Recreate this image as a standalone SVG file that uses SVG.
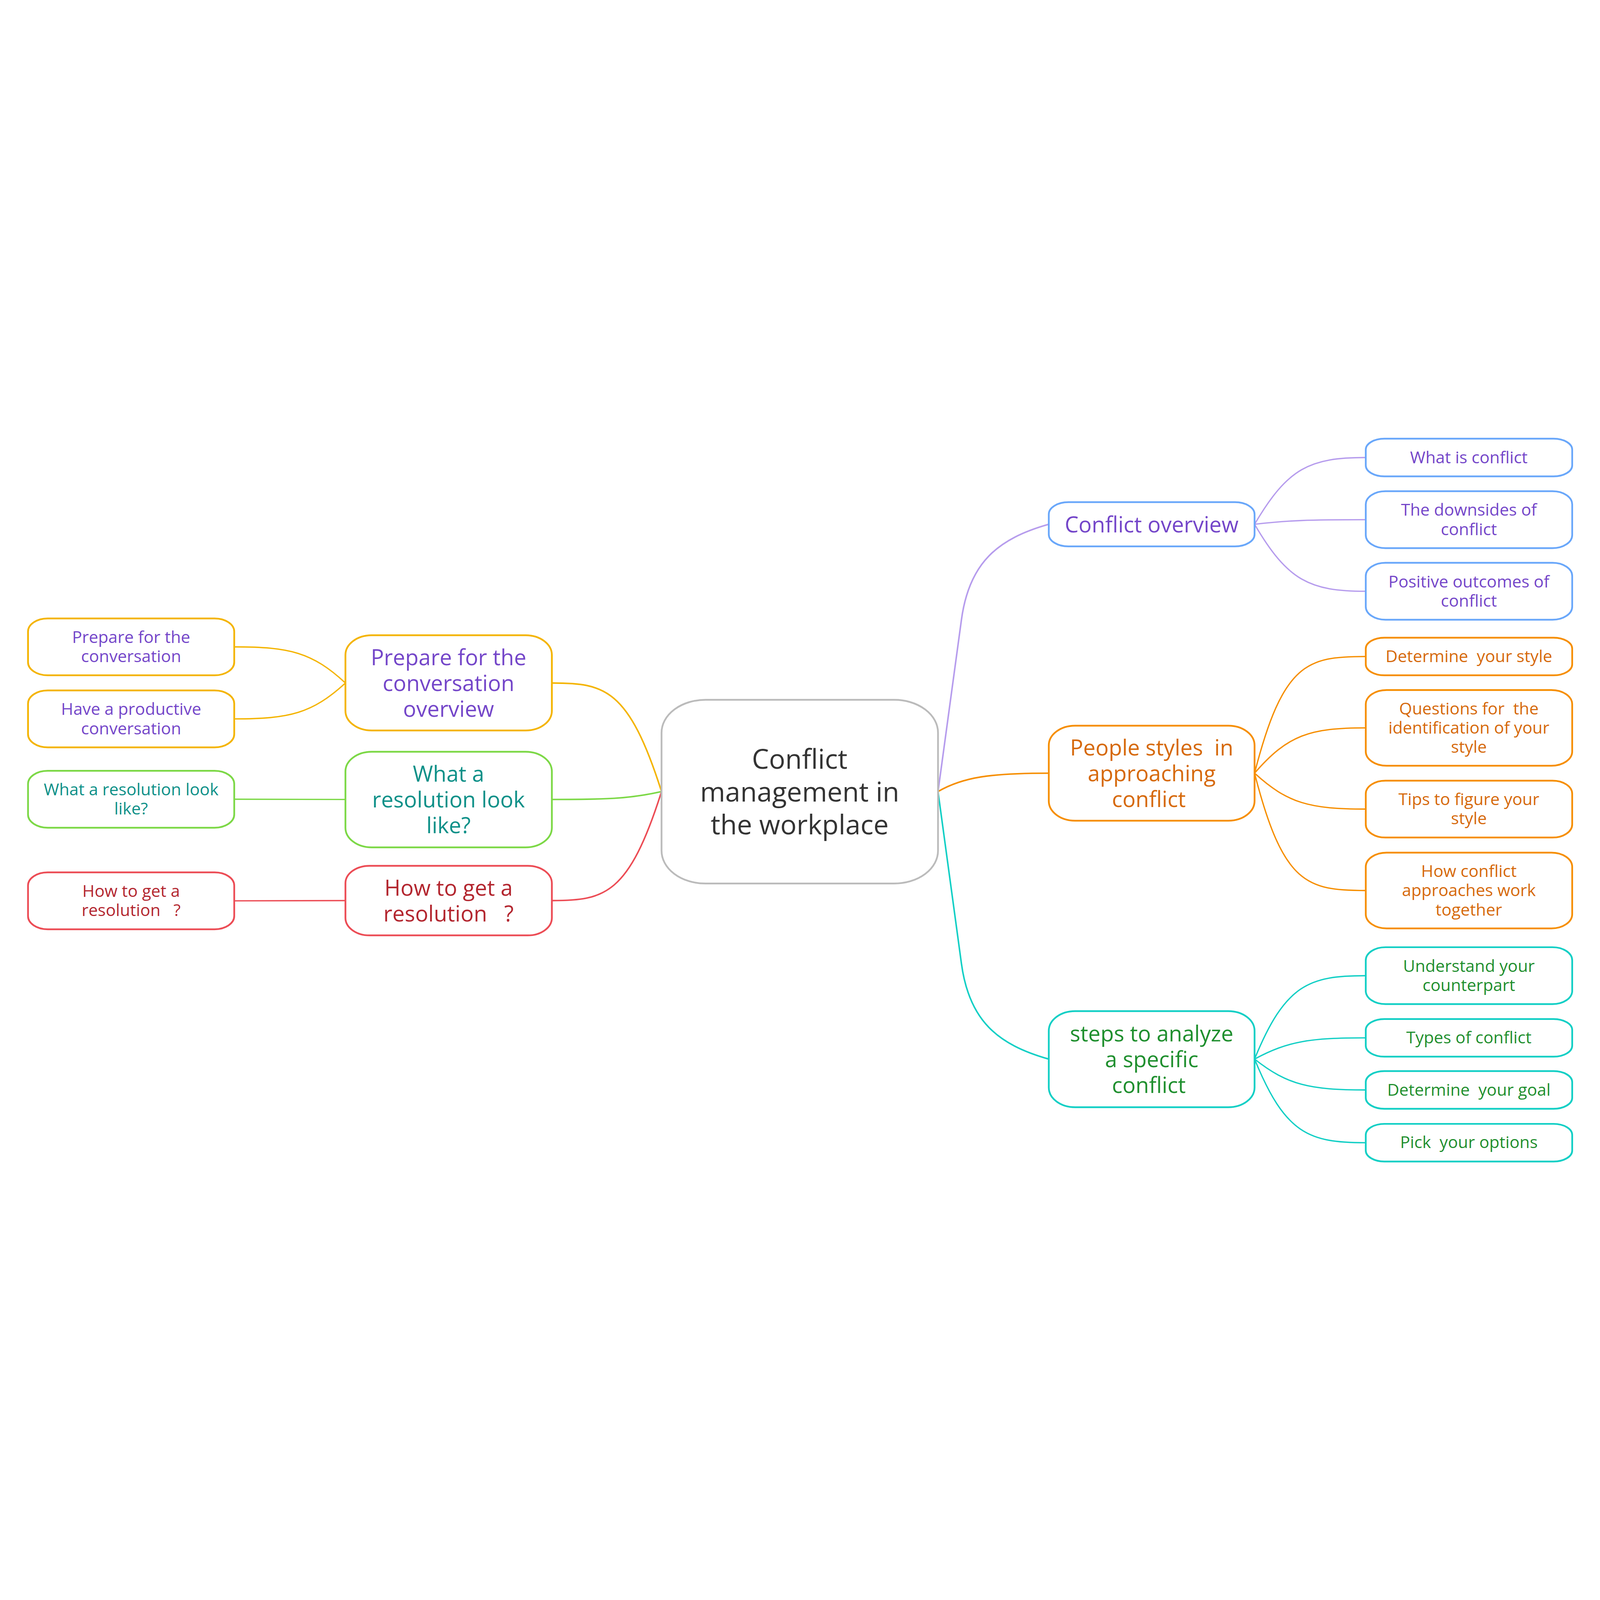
<svg xmlns="http://www.w3.org/2000/svg" width="7309" height="5167" viewBox="0 0 7309 5167">
<style>
svg{width:100vw;height:100vh}
text{font-family:"Open Sans","Noto Sans","Liberation Sans",sans-serif;text-anchor:middle;white-space:pre}
.box{fill:#ffffff;stroke-width:8}
.ln{fill:none;stroke-linecap:round;stroke-linejoin:round}
.main{stroke-width:7}
.sub{stroke-width:6}
.t0{font-size:124px;fill:#333333}
.t1{font-size:100px}
.t2{font-size:76px}
.cPur{fill:#7446c9}
.cOra{fill:#d6690b}
.cGrn{fill:#1f8f2e}
.cTea{fill:#0d9088}
.cRed{fill:#b3262f}
.sBlue{stroke:#69a7fa}
.sOra{stroke:#f68e00}
.sTeal{stroke:#12cfc5}
.sYel{stroke:#f4b400}
.sGrn{stroke:#7cd846}
.sRed{stroke:#ec4c55}
.sPur{stroke:#b69ced}
</style>
<rect width="7309" height="5167" fill="#ffffff"/>
<g id="connectors">
<path class="ln main sPur" d="M4285 2545 L4392 1760 C4427 1500 4557 1390 4791 1324"/>
<path class="ln main sOra" d="M4285 2545 C4400 2478 4530 2461 4791 2461"/>
<path class="ln main sTeal" d="M4285 2545 L4392 3331 C4427 3591 4557 3701 4791 3767"/>
<path class="ln main sYel" d="M3022 2545 C2872 2074 2762 2049 2521 2049"/>
<path class="ln main sGrn" d="M3022 2545 C2872 2579 2762 2581 2521 2581"/>
<path class="ln main sRed" d="M3022 2545 C2872 3018 2762 3043 2521 3043"/>
<path class="ln sub sPur" d="M5731 1324 C5883 1065 5985 1019 6239 1019"/>
<path class="ln sub sPur" d="M5731 1324 C5883 1306 5985 1303 6239 1303"/>
<path class="ln sub sPur" d="M5731 1324 C5883 1584 5985 1630 6239 1630"/>
<path class="ln sub sOra" d="M5731 2461 C5861 1955 5971 1928 6239 1928"/>
<path class="ln sub sOra" d="M5731 2461 C5883 2285 5985 2254 6239 2254"/>
<path class="ln sub sOra" d="M5731 2461 C5883 2600 5985 2625 6239 2625"/>
<path class="ln sub sOra" d="M5731 2461 C5861 2970 5971 2997 6239 2997"/>
<path class="ln sub sTeal" d="M5731 3767 C5871 3424 5981 3386 6239 3386"/>
<path class="ln sub sTeal" d="M5731 3767 C5883 3685 5985 3670 6239 3670"/>
<path class="ln sub sTeal" d="M5731 3767 C5883 3887 5985 3908 6239 3908"/>
<path class="ln sub sTeal" d="M5731 3767 C5871 4111 5981 4149 6239 4149"/>
<path class="ln sub sYel" d="M1578 2049 C1426 1909 1324 1884 1070 1884"/>
<path class="ln sub sYel" d="M1578 2049 C1426 2188 1324 2213 1070 2213"/>
<path class="ln sub sGrn" d="M1578 2581 L1070 2580"/>
<path class="ln sub sRed" d="M1578 3043 L1070 3044"/>
</g>
<g id="root">
<rect class="box" x="3022" y="2126" width="1263" height="839" rx="200" ry="150" stroke="#bbbbbb"/>
<text class="t0"><tspan x="3653" y="2441">Conflict</tspan><tspan x="3653" y="2591">management in</tspan><tspan x="3653" y="2741">the workplace</tspan></text>
</g>
<g id="conflict-overview">
<rect class="box sBlue" x="4791" y="1223" width="940" height="202" rx="90" ry="55"/>
<text class="t1 cPur"><tspan x="5261" y="1361">Conflict overview</tspan></text>
</g>
<g id="people-styles">
<rect class="box sOra" x="4791" y="2244" width="940" height="434" rx="120" ry="90"/>
<text class="t1 cOra"><tspan x="5261" y="2380">People styles  in</tspan><tspan x="5261" y="2498">approaching</tspan><tspan x="5261" y="2616">conflict </tspan></text>
</g>
<g id="steps">
<rect class="box sTeal" x="4791" y="3548" width="940" height="439" rx="120" ry="90"/>
<text class="t1 cGrn"><tspan x="5261" y="3686">steps to analyze</tspan><tspan x="5261" y="3804">a specific</tspan><tspan x="5261" y="3922">conflict </tspan></text>
</g>
<g id="prepare-overview">
<rect class="box sYel" x="1578" y="1831" width="943" height="435" rx="120" ry="90"/>
<text class="t1 cPur"><tspan x="2049" y="1968">Prepare for the</tspan><tspan x="2049" y="2086">conversation</tspan><tspan x="2049" y="2204">overview</tspan></text>
</g>
<g id="resolution-look">
<rect class="box sGrn" x="1578" y="2363" width="943" height="437" rx="120" ry="90"/>
<text class="t1 cTea"><tspan x="2049" y="2500">What a</tspan><tspan x="2049" y="2618">resolution look</tspan><tspan x="2049" y="2736">like?</tspan></text>
</g>
<g id="get-resolution">
<rect class="box sRed" x="1578" y="2884" width="943" height="318" rx="110" ry="80"/>
<text class="t1 cRed"><tspan x="2049" y="3020">How to get a</tspan><tspan x="2049" y="3138">resolution   ?</tspan></text>
</g>
<g id="what-is-conflict">
<rect class="box sBlue" x="6239" y="933" width="943" height="172" rx="85" ry="50"/>
<text class="t2 cPur"><tspan x="6710" y="1045">What is conflict</tspan></text>
</g>
<g id="downsides">
<rect class="box sBlue" x="6239" y="1173" width="943" height="260" rx="90" ry="60"/>
<text class="t2 cPur"><tspan x="6710" y="1285">The downsides of</tspan><tspan x="6710" y="1373">conflict</tspan></text>
</g>
<g id="positive-outcomes">
<rect class="box sBlue" x="6239" y="1500" width="943" height="260" rx="90" ry="60"/>
<text class="t2 cPur"><tspan x="6710" y="1612">Positive outcomes of</tspan><tspan x="6710" y="1700">conflict</tspan></text>
</g>
<g id="determine-style">
<rect class="box sOra" x="6239" y="1842" width="943" height="172" rx="85" ry="50"/>
<text class="t2 cOra"><tspan x="6710" y="1954">Determine  your style</tspan></text>
</g>
<g id="questions">
<rect class="box sOra" x="6239" y="2081" width="943" height="346" rx="95" ry="65"/>
<text class="t2 cOra"><tspan x="6710" y="2192">Questions for  the</tspan><tspan x="6710" y="2280">identification of your</tspan><tspan x="6710" y="2368">style</tspan></text>
</g>
<g id="tips">
<rect class="box sOra" x="6239" y="2495" width="943" height="260" rx="90" ry="60"/>
<text class="t2 cOra"><tspan x="6710" y="2607">Tips to figure your</tspan><tspan x="6710" y="2695">style</tspan></text>
</g>
<g id="how-conflict">
<rect class="box sOra" x="6239" y="2824" width="943" height="346" rx="95" ry="65"/>
<text class="t2 cOra"><tspan x="6710" y="2935">How conflict</tspan><tspan x="6710" y="3023">approaches work</tspan><tspan x="6710" y="3111">together</tspan></text>
</g>
<g id="understand">
<rect class="box sTeal" x="6239" y="3256" width="943" height="260" rx="90" ry="60"/>
<text class="t2 cGrn"><tspan x="6710" y="3368">Understand your</tspan><tspan x="6710" y="3456">counterpart</tspan></text>
</g>
<g id="types">
<rect class="box sTeal" x="6239" y="3584" width="943" height="172" rx="85" ry="50"/>
<text class="t2 cGrn"><tspan x="6710" y="3696">Types of conflict</tspan></text>
</g>
<g id="determine-goal">
<rect class="box sTeal" x="6239" y="3822" width="943" height="172" rx="85" ry="50"/>
<text class="t2 cGrn"><tspan x="6710" y="3934">Determine  your goal</tspan></text>
</g>
<g id="pick-options">
<rect class="box sTeal" x="6239" y="4063" width="943" height="172" rx="85" ry="50"/>
<text class="t2 cGrn"><tspan x="6710" y="4174">Pick  your options</tspan></text>
</g>
<g id="prepare-conversation">
<rect class="box sYel" x="128" y="1754" width="942" height="260" rx="90" ry="60"/>
<text class="t2 cPur"><tspan x="599" y="1866">Prepare for the</tspan><tspan x="599" y="1954">conversation</tspan></text>
</g>
<g id="productive-conversation">
<rect class="box sYel" x="128" y="2083" width="942" height="260" rx="90" ry="60"/>
<text class="t2 cPur"><tspan x="599" y="2195">Have a productive</tspan><tspan x="599" y="2283">conversation</tspan></text>
</g>
<g id="resolution-look-child">
<rect class="box sGrn" x="128" y="2450" width="942" height="260" rx="90" ry="60"/>
<text class="t2 cTea"><tspan x="599" y="2562">What a resolution look</tspan><tspan x="599" y="2650">like?</tspan></text>
</g>
<g id="get-resolution-child">
<rect class="box sRed" x="128" y="2914" width="942" height="260" rx="90" ry="60"/>
<text class="t2 cRed"><tspan x="599" y="3026">How to get a</tspan><tspan x="599" y="3114">resolution   ?</tspan></text>
</g>
</svg>
